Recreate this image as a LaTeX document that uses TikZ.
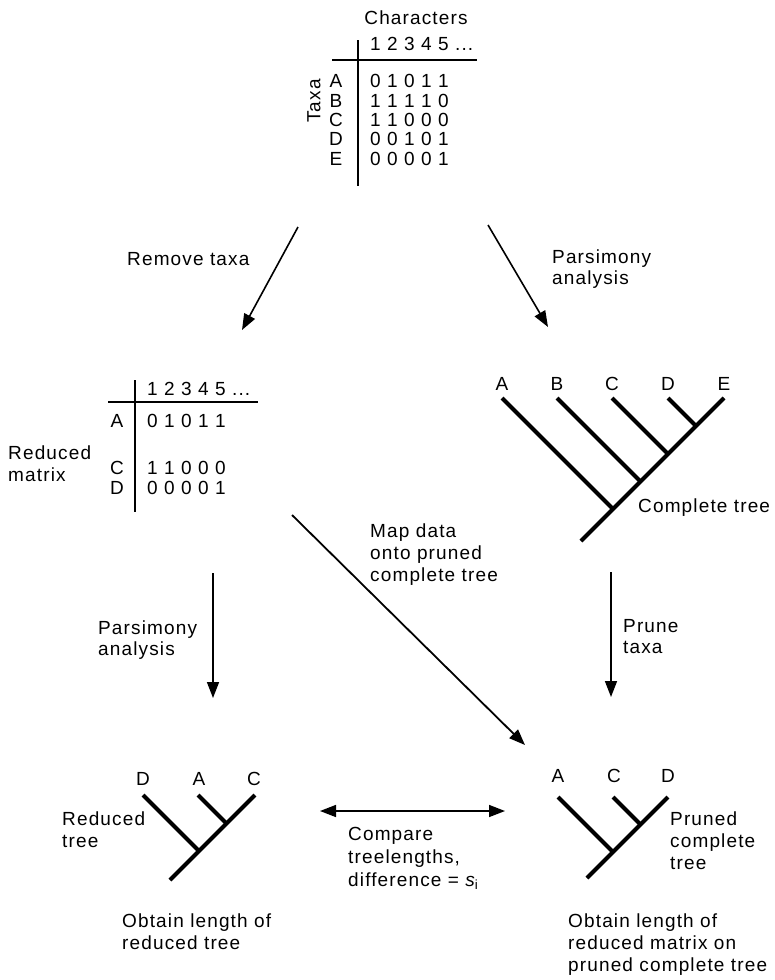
\documentclass[tikz,border=0pt]{standalone}
\usepackage{fontspec}
\setmainfont{Liberation Sans}[LetterSpace=6]
\usetikzlibrary{arrows.meta}
\begin{document}
\begin{tikzpicture}[x=1pt,y=-1pt,
  lbl/.style={inner sep=0pt, anchor=base west, font=\fontsize{19}{22}\selectfont},
  clbl/.style={inner sep=0pt, anchor=base, font=\fontsize{19}{22}\selectfont},
  arr/.style={line width=1.6pt, -{Triangle[length=16pt,width=12pt]}},
  dblarr/.style={line width=1.5pt, {Triangle[length=16pt,width=12pt]}-{Triangle[length=16pt,width=12pt]}},
  treeline/.style={line width=4.2pt},
  rule/.style={line width=2.6pt}]
\useasboundingbox (0,0) rectangle (774,980);

% ---------- top matrix ----------
\node[clbl] (chars) at (416,24) {Characters};
\node[lbl] (hdrT) at (370,50) {1 2 3 4 5 ...};
\node[rotate=90, inner sep=0pt, font=\fontsize{19}{22}\selectfont] (taxa) at (314,101) {Taxa};
\coordinate (tv1) at (358,40); \coordinate (tv2) at (358,186);
\coordinate (th1) at (332,60); \coordinate (th2) at (477,60);
\draw[rule] (tv1) -- (tv2);
\draw[rule] (th1) -- (th2);
\node[clbl] (tA) at (336,87) {A};   \node[lbl] (dA) at (370,87) {0 1 0 1 1};
\node[clbl] (tB) at (336,107) {B};  \node[lbl] (dB) at (370,107) {1 1 1 1 0};
\node[clbl] (tC) at (336,126) {C};  \node[lbl] (dC) at (370,126) {1 1 0 0 0};
\node[clbl] (tD) at (336,145) {D};  \node[lbl] (dD) at (370,145) {0 0 1 0 1};
\node[clbl] (tE) at (336,165) {E};  \node[lbl] (dE) at (370,165) {0 0 0 0 1};

% ---------- first arrows ----------
\coordinate (ra1) at (298,227); \coordinate (ra2) at (242,330);
\draw[arr] (ra1) -- (ra2);
\node[lbl] (remove) at (127,265) {Remove taxa};
\coordinate (pa1) at (488,225); \coordinate (pa2) at (548,327);
\draw[arr] (pa1) -- (pa2);
\node[lbl] (parsA1) at (552,263) {Parsimony};
\node[lbl] (parsA2) at (552,284) {analysis};

% ---------- reduced matrix ----------
\coordinate (rv1) at (135,380); \coordinate (rv2) at (135,512);
\coordinate (rh1) at (108,402); \coordinate (rh2) at (258,402);
\draw[rule] (rv1) -- (rv2);
\draw[rule] (rh1) -- (rh2);
\node[lbl] (hdrR) at (147,395) {1 2 3 4 5 ...};
\node[clbl] (rA) at (117,427) {A};  \node[lbl] (rdA) at (147,427) {0 1 0 1 1};
\node[clbl] (rC) at (117,474) {C};  \node[lbl] (rdC) at (147,474) {1 1 0 0 0};
\node[clbl] (rD) at (117,494) {D};  \node[lbl] (rdD) at (147,494) {0 0 0 0 1};
\node[lbl] (redm1) at (8,459) {Reduced};
\node[lbl] (redm2) at (8,481) {matrix};

% ---------- complete tree ----------
\coordinate (cA) at (502,398); \coordinate (cB) at (557,398);
\coordinate (cC) at (612,398); \coordinate (cD) at (668,398);
\coordinate (cE) at (724,398); \coordinate (cR) at (581,541);
\coordinate (jA) at (613,509); \coordinate (jB) at (640.5,481.5);
\coordinate (jC) at (668,454); \coordinate (jD) at (696,426);
\draw[treeline] (cR) -- (cE);
\draw[treeline] (cA) -- (jA);
\draw[treeline] (cB) -- (jB);
\draw[treeline] (cC) -- (jC);
\draw[treeline] (cD) -- (jD);
\node[clbl] (lcA) at (502,390) {A};
\node[clbl] (lcB) at (557,390) {B};
\node[clbl] (lcC) at (612,390) {C};
\node[clbl] (lcD) at (668,390) {D};
\node[clbl] (lcE) at (724,390) {E};
\node[lbl] (ctree) at (638,512) {Complete tree};

% ---------- middle arrows ----------
\coordinate (la1) at (213,573); \coordinate (la2) at (213,698);
\draw[arr] (la1) -- (la2);
\node[lbl] (parsB1) at (98,634) {Parsimony};
\node[lbl] (parsB2) at (98,655) {analysis};
\coordinate (pr1) at (611,572); \coordinate (pr2) at (611,697);
\draw[arr] (pr1) -- (pr2);
\node[lbl] (prune1) at (623,632) {Prune};
\node[lbl] (prune2) at (623,653) {taxa};
\coordinate (md1) at (292,515); \coordinate (md2) at (525,745);
\draw[arr, line width=1.8pt] (md1) -- (md2);
\node[lbl] (map1) at (370,537) {Map data};
\node[lbl] (map2) at (370,559) {onto pruned};
\node[lbl] (map3) at (370,581) {complete tree};

% ---------- reduced tree ----------
\coordinate (rtD) at (143,795); \coordinate (rtA) at (198,795);
\coordinate (rtC) at (255,795); \coordinate (rtR) at (170,880);
\coordinate (rjD) at (199,851); \coordinate (rjA) at (226.5,823.5);
\draw[treeline] (rtR) -- (rtC);
\draw[treeline] (rtD) -- (rjD);
\draw[treeline] (rtA) -- (rjA);
\node[clbl] (lrD) at (143,785) {D};
\node[clbl] (lrA) at (199,785) {A};
\node[clbl] (lrC) at (254,785) {C};
\node[lbl] (redt1) at (62,825) {Reduced};
\node[lbl] (redt2) at (62,847) {tree};

% ---------- compare arrow ----------
\coordinate (cmp1) at (320,811); \coordinate (cmp2) at (505,811);
\draw[dblarr] (cmp1) -- (cmp2);
\node[lbl] (cmpt1) at (348,840) {Compare};
\node[lbl] (cmpt2) at (348,863) {treelengths,};
\node[lbl] (cmpt3) at (348,886) {difference = {\itshape s}\textsubscript{i}};

% ---------- pruned tree ----------
\coordinate (ptA) at (558,797); \coordinate (ptC) at (613,797);
\coordinate (ptD) at (668,797); \coordinate (ptR) at (587,878);
\coordinate (pjA) at (613,852); \coordinate (pjC) at (640.5,824.5);
\draw[treeline] (ptR) -- (ptD);
\draw[treeline] (ptA) -- (pjA);
\draw[treeline] (ptC) -- (pjC);
\node[clbl] (lpA) at (558,782) {A};
\node[clbl] (lpC) at (614,782) {C};
\node[clbl] (lpD) at (668,782) {D};
\node[lbl] (pct1) at (670,825) {Pruned};
\node[lbl] (pct2) at (670,847) {complete};
\node[lbl] (pct3) at (670,869) {tree};

% ---------- bottom texts ----------
\node[lbl] (obl1) at (122,927) {Obtain length of};
\node[lbl] (obl2) at (122,949) {reduced tree};
\node[lbl] (obr1) at (568,927) {Obtain length of};
\node[lbl] (obr2) at (568,949) {reduced matrix on};
\node[lbl] (obr3) at (568,971) {pruned complete tree};
\end{tikzpicture}
\end{document}
